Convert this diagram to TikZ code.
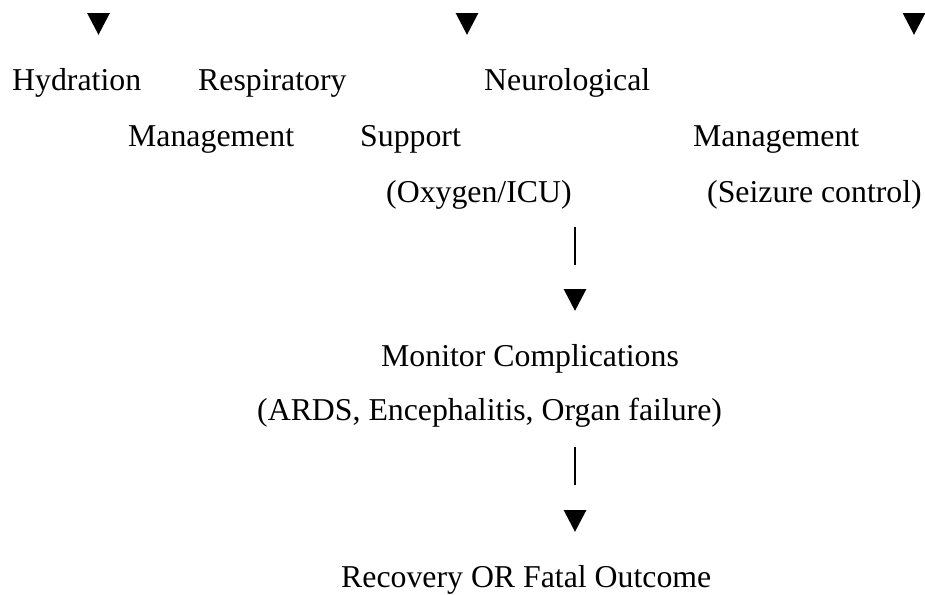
\documentclass[tikz,border=0pt]{standalone}
\usepackage{fontspec}
\setmainfont{Liberation Serif}
\begin{document}
\begin{tikzpicture}[
    x=1pt, y=-1pt,
    txt/.style={anchor=base west, inner sep=0pt, font=\fontsize{31.8}{38}\selectfont},
    bar/.style={line width=2.6pt},
]
\useasboundingbox (0,0) rectangle (925,594);

% arrow heads
\foreach \x/\y in {98.5/24, 467/24, 914/24, 575/300, 575/521} {
    \fill (\x-11.3,\y-10.8) -- (\x+11.3,\y-10.8) -- (\x,\y+10.8) -- cycle;
}

\node[txt] (hyd)  at (12,90)   {Hydration};
\node[txt] (resp) at (198,90)  {Respiratory};
\node[txt] (neur) at (484,90)  {Neurological};
\node[txt] (man1) at (128,146) {Management};
\node[txt] (supp) at (360,146) {Support};
\node[txt] (man2) at (693,146) {Management};
\node[txt] (oxy)  at (386,202) {(Oxygen/ICU)};
\node[txt] (seiz) at (707,202) {(Seizure control)};
\node[txt] (mon)  at (381,366) {Monitor Complications};
\node[txt] (ards) at (257,420) {(ARDS, Encephalitis, Organ failure)};
\node[txt] (out)  at (341,587) {Recovery OR Fatal Outcome};

\coordinate (b1) at (575,227);
\coordinate (b2) at (575,447);
\draw[bar] (b1) -- ++(0,38);
\draw[bar] (b2) -- ++(0,38);
\end{tikzpicture}
\end{document}
